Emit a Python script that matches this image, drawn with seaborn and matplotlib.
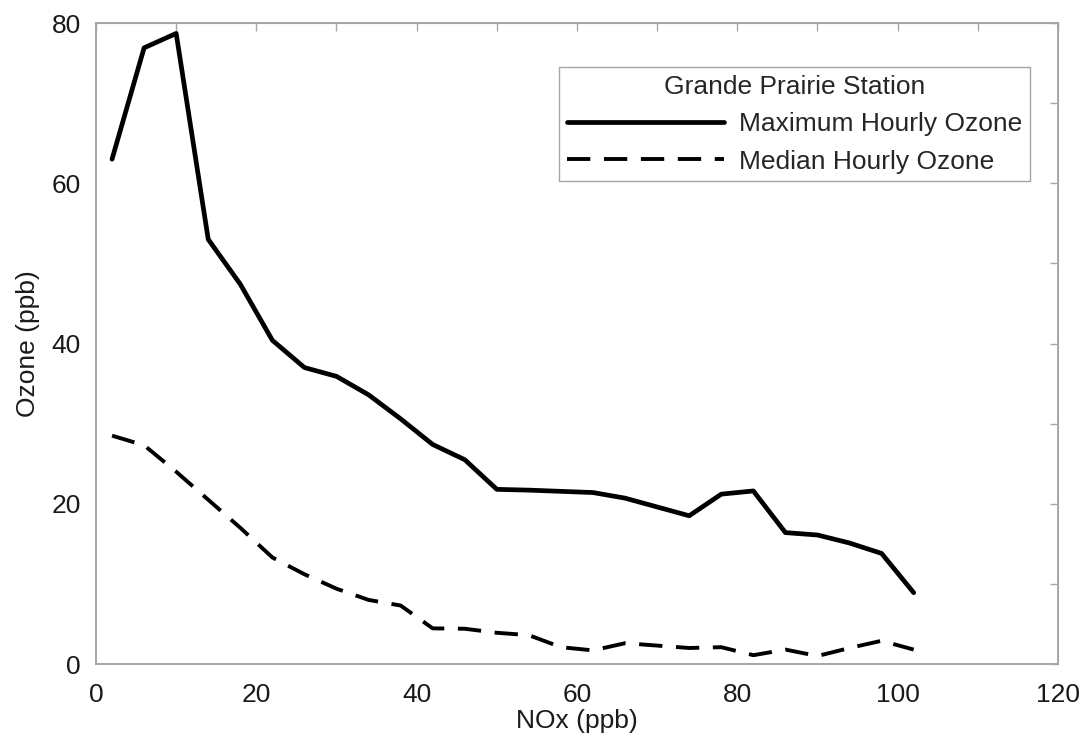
import pandas as pd
import matplotlib
matplotlib.use("Agg")
import matplotlib.pyplot as plt
import seaborn as sns
from matplotlib.ticker import MultipleLocator

# NOx bins (ppb) and ozone values
nox = [2, 6, 10, 14, 18, 22, 26, 30, 34, 38, 42, 46, 50,
       54, 58, 62, 66, 70, 74, 78, 82, 86, 90, 94, 98, 102]
max_ozone = [63.0, 76.9, 78.7, 53.0, 47.4, 40.4, 37.0, 35.9, 33.6, 30.6, 27.4, 25.5, 21.8,
             21.7, 21.55, 21.4, 20.7, 19.6, 18.5, 21.2, 21.6, 16.4, 16.1, 15.1, 13.8, 8.9]
median_ozone = [28.5, 27.3, 24.0, 20.5, 17.0, 13.3, 11.2, 9.4, 8.0, 7.3, 4.45, 4.4, 3.9,
                3.6, 2.1, 1.7, 2.6, 2.3, 2.0, 2.1, 1.1, 1.8, 1.0, 2.0, 2.9, 1.8]

df = pd.DataFrame({"nox": nox, "max": max_ozone, "median": median_ozone})

sns.set_style("white")
plt.rcParams["font.family"] = ["Liberation Sans", "DejaVu Sans"]
fs = 19

fig = plt.figure(figsize=(10.86, 7.42), dpi=100)
ax = fig.add_axes([0.0884, 0.1051, 0.8858, 0.8639])

sns.lineplot(data=df, x="nox", y="max", ax=ax, color="black", linewidth=3.4,
             label="Maximum Hourly Ozone")
sns.lineplot(data=df, x="nox", y="median", ax=ax, color="black", linewidth=2.8,
             linestyle=(0, (6, 3.5)), label="Median Hourly Ozone")

ax.set_xlim(0, 120)
ax.set_ylim(0, 80)
ax.xaxis.set_major_locator(MultipleLocator(20))
ax.xaxis.set_minor_locator(MultipleLocator(10))
ax.yaxis.set_major_locator(MultipleLocator(20))
ax.yaxis.set_minor_locator(MultipleLocator(10))

grey = "#a6a6a6"
for sp in ax.spines.values():
    sp.set_visible(True)
    sp.set_color(grey)
    sp.set_linewidth(1.4)

ax.tick_params(which="major", direction="in", length=12, width=1.0, color=grey,
               labelsize=fs, labelcolor="#1a1a1a")
ax.tick_params(which="minor", direction="in", length=6, width=1.0, color=grey)
ax.tick_params(axis="x", which="major", pad=14)
ax.tick_params(axis="y", which="major", pad=11)

# short ticks on the top and right frame
top = ax.secondary_xaxis("top")
top.xaxis.set_major_locator(MultipleLocator(10))
top.tick_params(direction="in", length=6, width=1.0, color=grey, labeltop=False)
top.spines["top"].set_color(grey)
right = ax.secondary_yaxis("right")
right.yaxis.set_major_locator(MultipleLocator(10))
right.tick_params(direction="in", length=6, width=1.0, color=grey, labelright=False)
right.spines["right"].set_color(grey)

ax.set_xlabel("NOx (ppb)", fontsize=fs, color="#1a1a1a", labelpad=1)
ax.set_ylabel("Ozone (ppb)", fontsize=fs, color="#1a1a1a", labelpad=8)

leg = ax.legend(title="Grande Prairie Station", loc="upper right",
                bbox_to_anchor=(0.971, 0.931), borderaxespad=0,
                fontsize=fs, title_fontsize=fs, frameon=True, fancybox=False,
                framealpha=1, edgecolor=grey, handlelength=5.95, handletextpad=0.57,
                labelspacing=0.5, borderpad=0.3)
leg.get_frame().set_linewidth(1.0)

fig.savefig("out.png", dpi=100)
